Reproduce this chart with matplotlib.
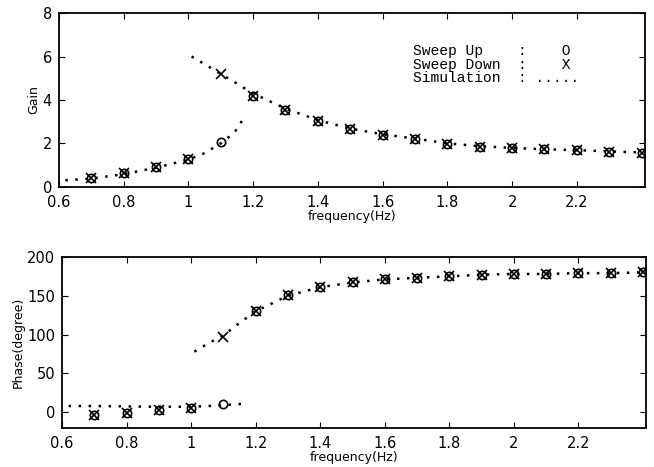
import matplotlib.pyplot as plt
import numpy as np

# measured points
freq_up = [0.7, 0.8, 0.9, 1.0, 1.1, 1.2, 1.3, 1.4, 1.5, 1.6, 1.7, 1.8, 1.9, 2.0, 2.1, 2.2, 2.3, 2.4]
gain_up = [0.4, 0.63, 0.93, 1.3, 2.07, 4.2, 3.55, 3.03, 2.65, 2.4, 2.22, 1.97, 1.85, 1.78, 1.73, 1.7, 1.62, 1.57]
phase_up = [-3, -1, 3, 5, 10, 130, 151, 161, 167, 172, 173, 175, 177, 178, 178, 179, 179, 180]

freq_down = [0.7, 0.8, 0.9, 1.0, 1.1, 1.2, 1.3, 1.4, 1.5, 1.6, 1.7, 1.8, 1.9, 2.0, 2.1, 2.2, 2.3, 2.4]
gain_down = [0.4, 0.63, 0.93, 1.3, 5.2, 4.2, 3.55, 3.03, 2.65, 2.4, 2.22, 1.97, 1.85, 1.78, 1.73, 1.7, 1.62, 1.57]
phase_down = [-3, -1, 3, 5, 97, 130, 151, 161, 167, 172, 173, 175, 177, 178, 178, 179, 179, 180]

# simulation curves (two branches)
sim_f_low = [0.62, 0.7, 0.8, 0.9, 1.0, 1.05, 1.1, 1.13, 1.15, 1.17]
sim_gain_low = [0.3, 0.38, 0.58, 0.88, 1.25, 1.55, 2.0, 2.35, 2.65, 3.15]
sim_phase_low = [8, 8, 7.5, 7, 7, 8, 9, 10, 10.5, 11]

sim_f_high = [1.01, 1.05, 1.1, 1.15, 1.2, 1.3, 1.4, 1.5, 1.6, 1.7, 1.8, 1.9, 2.0, 2.1, 2.2, 2.3, 2.4]
sim_gain_high = [6.0, 5.65, 5.2, 4.75, 4.3, 3.6, 3.07, 2.68, 2.42, 2.22, 2.0, 1.87, 1.79, 1.73, 1.69, 1.63, 1.58]
sim_phase_high = [78, 88, 99, 115, 130, 150, 161, 167, 171, 173, 175, 177, 178, 178, 179, 179, 180]

xticks = [0.6, 0.8, 1.0, 1.2, 1.4, 1.6, 1.8, 2.0, 2.2]
xtick_labels = ['0.6', '0.8', '1', '1.2', '1.4', '1.6', '1.8', '2', '2.2']

fig = plt.figure(figsize=(6.54, 4.67), dpi=100)
ax1 = fig.add_axes([0.090, 0.600, 0.896, 0.372])
ax2 = fig.add_axes([0.095, 0.084, 0.893, 0.366])

dots = (0, (1, 3))


def style(ax):
    ax.set_xlim(0.6, 2.41)
    ax.set_xticks(xticks)
    ax.set_xticklabels(xtick_labels)
    ax.tick_params(direction='in', top=True, right=True, length=4, labelsize=10.5)
    ax.tick_params(axis='x', pad=6)
    ax.tick_params(axis='y', pad=5)
    for s in ax.spines.values():
        s.set_linewidth(1.3)
    ax.set_xlabel('frequency(Hz)', fontsize=9, labelpad=0)


# gain
ax1.plot(sim_f_low, sim_gain_low, color='k', lw=1.8, linestyle=dots)
ax1.plot(sim_f_high, sim_gain_high, color='k', lw=1.8, linestyle=dots)
ax1.plot(freq_up, gain_up, 'o', mfc='none', mec='k', ms=6, mew=1.2)
ax1.plot(freq_down, gain_down, 'x', color='k', ms=7, mew=1.2)
ax1.set_ylim(0, 8)
ax1.set_yticks([0, 2, 4, 6, 8])
ax1.set_ylabel('Gain', fontsize=9, labelpad=2)
style(ax1)

ax1.text(0.605, 0.82, 'Sweep Up    :    O\nSweep Down  :    X\nSimulation  : .....',
         transform=ax1.transAxes, family='Liberation Mono', fontsize=10.5,
         va='top', linespacing=0.95)

# phase
ax2.plot(sim_f_low, sim_phase_low, color='k', lw=1.8, linestyle=dots)
ax2.plot(sim_f_high, sim_phase_high, color='k', lw=1.8, linestyle=dots)
ax2.plot(freq_up, phase_up, 'o', mfc='none', mec='k', ms=6, mew=1.2)
ax2.plot(freq_down, phase_down, 'x', color='k', ms=7, mew=1.2)
ax2.set_ylim(-20, 200)
ax2.set_yticks([0, 50, 100, 150, 200])
ax2.set_ylabel('Phase(degree)', fontsize=9, labelpad=2)
style(ax2)

fig.savefig('out.png', dpi=100)
